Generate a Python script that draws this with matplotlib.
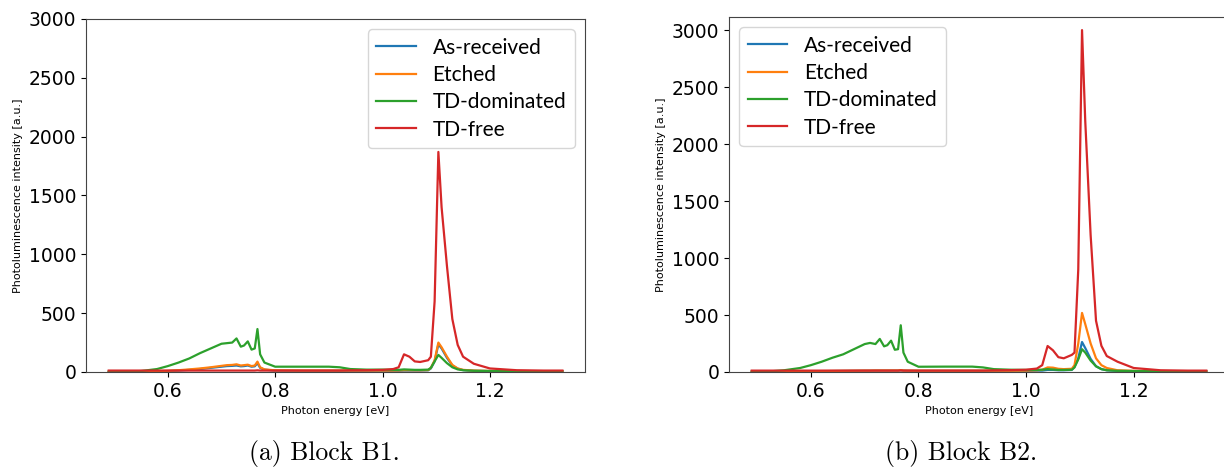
import matplotlib
matplotlib.use("Agg")
import matplotlib.pyplot as plt

# Photon energy grid [eV] shared by all spectra
energy = [0.49, 0.52, 0.55, 0.58, 0.60, 0.62, 0.64, 0.66, 0.68, 0.70,
          0.71, 0.72, 0.728, 0.736, 0.742, 0.749, 0.756, 0.762, 0.767, 0.772,
          0.78, 0.80, 0.85, 0.90, 0.92, 0.94, 0.97, 1.00, 1.02, 1.03,
          1.04, 1.05, 1.06, 1.07, 1.085, 1.09, 1.097, 1.104, 1.11, 1.12,
          1.13, 1.14, 1.15, 1.17, 1.20, 1.25, 1.30, 1.335]

labels = ["As-received", "Etched", "TD-dominated", "TD-free"]
colors = ["#1f77b4", "#ff7f0e", "#2ca02c", "#d62728"]

# Block B1 intensities [a.u.]
b1_as_received = [2, 2, 3, 5, 8, 12, 18, 25, 35, 45,
                  50, 52, 55, 48, 50, 55, 45, 48, 75, 35,
                  20, 12, 10, 10, 10, 10, 10, 10, 10, 10,
                  12, 12, 12, 12, 14, 30, 90, 235, 200, 120,
                  55, 28, 16, 10, 8, 7, 6, 6]
b1_etched = [2, 2, 3, 6, 10, 15, 22, 30, 40, 52,
             58, 60, 65, 55, 58, 62, 50, 55, 88, 40,
             22, 14, 12, 12, 12, 12, 12, 12, 12, 13,
             15, 15, 14, 14, 16, 35, 100, 250, 210, 130,
             60, 30, 18, 12, 9, 8, 7, 7]
b1_td_dominated = [2, 3, 8, 25, 50, 80, 115, 160, 200, 240,
                   245, 250, 285, 215, 225, 260, 190, 200, 365, 150,
                   80, 45, 45, 45, 40, 25, 20, 20, 18, 18,
                   22, 20, 18, 18, 20, 35, 90, 145, 120, 75,
                   40, 22, 15, 10, 8, 6, 5, 5]
b1_td_free = [12, 12, 12, 12, 12, 12, 12, 12, 12, 12,
              12, 12, 12, 12, 12, 12, 12, 12, 14, 12,
              12, 12, 12, 12, 12, 14, 15, 18, 25, 40,
              150, 130, 90, 85, 100, 130, 600, 1870, 1400, 900,
              450, 230, 130, 70, 30, 15, 12, 12]

# Block B2 intensities [a.u.]
b2_as_received = [3, 3, 4, 5, 6, 7, 8, 9, 10, 11,
                  11, 12, 12, 12, 12, 12, 12, 12, 14, 12,
                  11, 10, 10, 10, 10, 10, 10, 10, 12, 12,
                  18, 18, 15, 15, 18, 45, 120, 263, 210, 115,
                  50, 25, 15, 10, 8, 6, 6, 6]
b2_etched = [4, 4, 5, 6, 7, 8, 9, 10, 11, 12,
             12, 13, 13, 13, 13, 13, 13, 13, 16, 13,
             12, 11, 11, 11, 11, 11, 11, 12, 15, 20,
             40, 38, 28, 25, 28, 60, 250, 518, 420, 250,
             120, 60, 35, 15, 10, 8, 7, 7]
b2_td_dominated = [2, 4, 15, 35, 60, 90, 125, 155, 200, 245,
                   255, 245, 290, 225, 235, 275, 195, 200, 410, 170,
                   90, 46, 47, 47, 40, 25, 20, 18, 18, 20,
                   25, 22, 18, 18, 20, 40, 110, 200, 170, 100,
                   50, 25, 15, 10, 8, 6, 5, 5]
b2_td_free = [12, 12, 12, 12, 12, 12, 12, 12, 12, 12,
              12, 12, 12, 12, 12, 12, 12, 12, 14, 12,
              12, 12, 12, 12, 12, 14, 16, 20, 30, 60,
              228, 190, 130, 120, 150, 170, 900, 3000, 2200, 1200,
              450, 230, 140, 90, 35, 15, 12, 12]

b1_series = [b1_as_received, b1_etched, b1_td_dominated, b1_td_free]
b2_series = [b2_as_received, b2_etched, b2_td_dominated, b2_td_free]

yticks = [0, 500, 1000, 1500, 2000, 2500, 3000]

fig = plt.figure(figsize=(12.24, 4.72), dpi=100)
ax1 = fig.add_axes([0.0703, 0.2119, 0.4077, 0.7479])
ax2 = fig.add_axes([0.5956, 0.2119, 0.4085, 0.7521])

for ax, series, ymax, loc in [(ax1, b1_series, 3000, "upper right"),
                              (ax2, b2_series, 3115, "upper left")]:
    for vals, lab, col in zip(series, labels, colors):
        ax.plot(energy, vals, color=col, lw=1.6, label=lab)
    ax.set_ylim(0, ymax)
    ax.set_yticks(yticks)
    ax.set_xticks([0.6, 0.8, 1.0, 1.2])
    ax.tick_params(labelsize=13.5)
    ax.set_xlabel("Photon energy [eV]", fontsize=8)
    ax.set_ylabel("Photoluminescence intensity [a.u.]", fontsize=8)
    for s in ax.spines.values():
        s.set_color("#444444")
    ax.legend(loc=loc, prop={"family": "Lato", "size": 15},
              handlelength=1.9, labelspacing=0.35)

fig.text(0.265, 0.025, "(a) Block B1.", family="cmr10", fontsize=18.5, ha="center")
fig.text(0.785, 0.025, "(b) Block B2.", family="cmr10", fontsize=18.5, ha="center")

fig.savefig("out.png", dpi=100)
